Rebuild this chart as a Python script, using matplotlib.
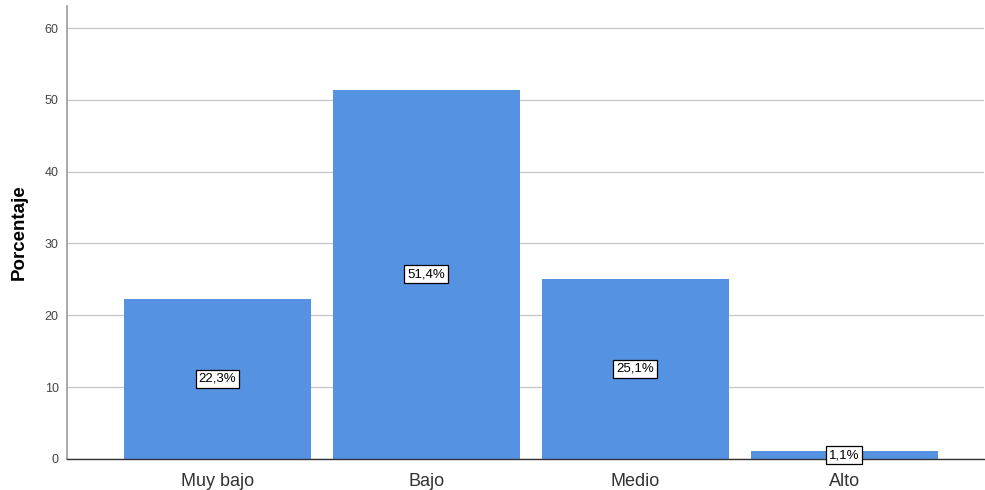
import matplotlib
matplotlib.use("Agg")
import matplotlib.pyplot as plt

categories = ["Muy bajo", "Bajo", "Medio", "Alto"]
values = [22.3, 51.4, 25.1, 1.1]
labels = ["22,3%", "51,4%", "25,1%", "1,1%"]
yticks = [0, 10, 20, 30, 40, 50, 60]

plt.rcParams['font.family'] = ['Liberation Sans', 'DejaVu Sans']
fig = plt.figure(figsize=(9.85, 4.9), dpi=100)
ax = fig.add_axes([0.068, 0.0633, 0.931, 0.925])

x = list(range(len(categories)))
ax.bar(x, values, width=0.895, color="#5592E1", zorder=2)
for xi, v, lab in zip(x, values, labels):
    ax.text(xi, v / 2, lab, ha="center", va="center", fontsize=9.5, color="black", zorder=4,
            bbox=dict(boxstyle="square,pad=0.22", facecolor="white", edgecolor="black", linewidth=0.9))

ax.set_xlim(-0.72, 3.67)
ax.set_ylim(0, 63.1)
ax.set_yticks(yticks)
ax.set_xticks(x)
ax.set_xticklabels(categories, fontsize=13, color="#333333")
ax.tick_params(axis="y", labelsize=9, colors="#444444", length=0, pad=6)
ax.tick_params(axis="x", length=0, pad=10)
ax.yaxis.grid(True, color="#c8c8c8", linewidth=1, zorder=0)
ax.set_axisbelow(True)
ax.spines["top"].set_visible(False)
ax.spines["right"].set_visible(False)
ax.spines["left"].set_color("#999999")
ax.spines["left"].set_linewidth(1.2)
ax.spines["bottom"].set_color("#333333")
ax.spines["bottom"].set_linewidth(1)
ax.set_ylabel("Porcentaje", fontsize=13.5, fontweight="bold", labelpad=12)

fig.savefig("out.png", dpi=100)
